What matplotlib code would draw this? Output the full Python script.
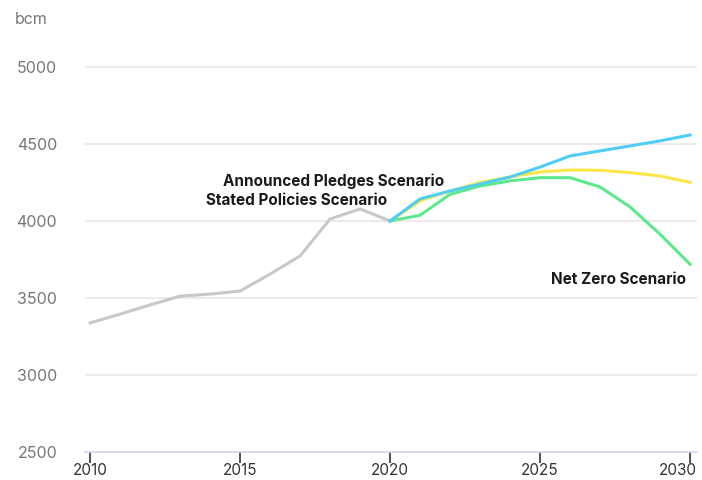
import matplotlib.pyplot as plt
import matplotlib.transforms as mtransforms

plt.rcParams['font.family'] = ['Inter', 'DejaVu Sans']

# historical demand
hist_years = [2010, 2011, 2012, 2013, 2014, 2015, 2016, 2017, 2018, 2019, 2020]
hist_vals = [3338, 3395, 3455, 3512, 3525, 3545, 3655, 3773, 4013, 4078, 4000]

# scenarios 2020-2030
scen_years = [2020, 2021, 2022, 2023, 2024, 2025, 2026, 2027, 2028, 2029, 2030]
steps = [4000, 4143, 4195, 4240, 4285, 4350, 4422, 4455, 4487, 4520, 4558]
aps = [4000, 4130, 4195, 4250, 4286, 4318, 4331, 4329, 4314, 4292, 4250]
nze = [4000, 4037, 4173, 4227, 4260, 4281, 4281, 4221, 4091, 3914, 3719]

yticks = [2500, 3000, 3500, 4000, 4500, 5000]
xticks = [2010, 2015, 2020, 2025, 2030]

fig = plt.figure(figsize=(7.02, 4.8), dpi=100)
ax = fig.add_axes([85 / 702, 28 / 480, 612 / 702, 392 / 480])

ax.plot(hist_years, hist_vals, color='#c8c8c8', lw=2.2)
ax.plot(scen_years, aps, color='#fbe74a', lw=2.2)
ax.plot(scen_years, nze, color='#5de88c', lw=2.2)
ax.plot(scen_years, steps, color='#4fcdf5', lw=2.2)

ax.set_xlim(2009.83, 2030.23)
ax.set_ylim(2500, 5045)
ax.set_yticks(yticks)
ax.set_xticks(xticks)
ax.grid(axis='y', color='#e8e8e8', lw=1.2)
ax.set_axisbelow(True)
for s in ['top', 'right', 'left']:
    ax.spines[s].set_visible(False)
ax.spines['bottom'].set_color('#d0d5ea')
ax.spines['bottom'].set_linewidth(1.2)
ax.tick_params(axis='y', length=0, pad=20, labelsize=11.5, labelcolor='#777777')
ax.tick_params(axis='x', length=8, width=1.2, color='#333333', direction='out',
               labelsize=11, labelcolor='#333333', pad=0)

# keep the last year label inside the figure
last = ax.get_xticklabels()[-1]
last.set_transform(last.get_transform()
                   + mtransforms.ScaledTranslation(-12 / 100, 0, fig.dpi_scale_trans))

ax.text(2018.12, 4260, 'Announced Pledges Scenario', fontsize=11, fontweight='bold',
        ha='center', va='center', color='#1a1a1a')
ax.text(2019.9, 4130, 'Stated Policies Scenario', fontsize=11, fontweight='bold',
        ha='right', va='center', color='#1a1a1a')
ax.text(2029.87, 3620, 'Net Zero Scenario', fontsize=11, fontweight='bold',
        ha='right', va='center', color='#1a1a1a')

fig.text(15 / 702, 1 - 20 / 480, 'bcm', fontsize=11.5, color='#777777', va='center')

fig.savefig('out.png', dpi=100)
